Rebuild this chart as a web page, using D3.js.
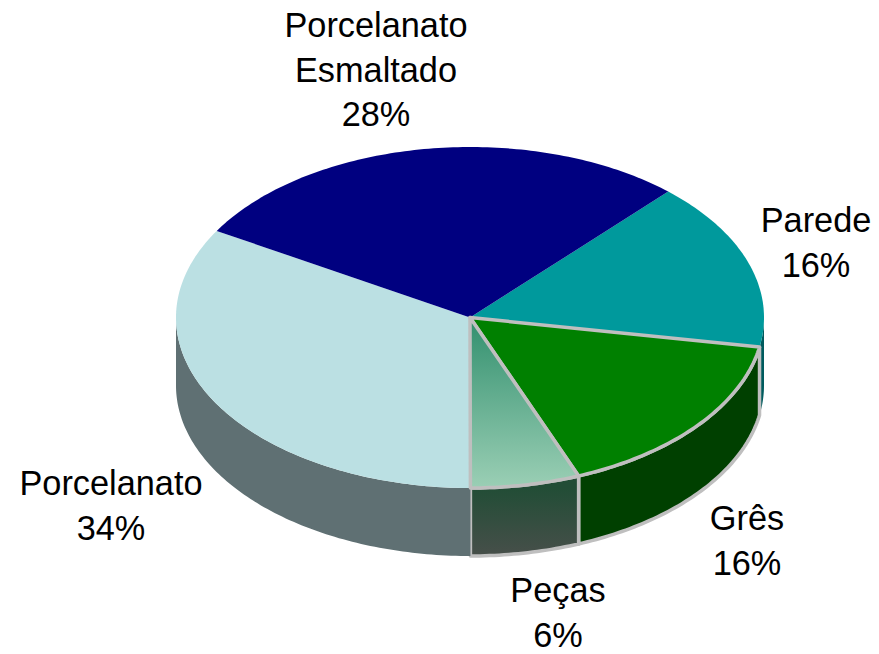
<!DOCTYPE html>
<html><head><meta charset="utf-8">
<script src="https://cdn.jsdelivr.net/npm/d3@7"></script>
<style>html,body{margin:0;padding:0;background:#fff}svg{display:block}text{font-family:"Liberation Sans",Arial,sans-serif;font-size:34.3px;fill:#000}</style>
</head><body><svg id="c" width="879" height="654"></svg>
<script>
const categories=["Parede","Grês","Peças","Porcelanato","Porcelanato Esmaltado"];
const values=[16,16.2,6,33.5,28.3];
const percentLabels=["16%","16%","6%","34%","28%"];
const labelLines=[["Parede"],["Grês"],["Peças"],["Porcelanato"],["Porcelanato","Esmaltado"]];
const topColors=["#00999c","#008000","url(#pecasTop)","#bbe0e3","#000080"];
const wallColors=["#005b5e","#004000","url(#pecasWall)","#5f7073","#000050"];
const outlined=[false,true,true,false,false];
const labelAnchors=[[816,232],[747,530],[558,602],[111,495],[376,37]];

const W=879,H=654,cx=470,cy=317.5,rx=294,ry=170.5,depth=68;
const svg=d3.select("#c");
const defs=svg.append("defs");
function grad(id,stops,y1,y2){
  const g=defs.append("linearGradient").attr("id",id).attr("gradientUnits","userSpaceOnUse")
    .attr("x1",0).attr("x2",0).attr("y1",y1).attr("y2",y2);
  stops.forEach(s=>g.append("stop").attr("offset",s[0]).attr("stop-color",s[1]));
}
grad("pecasTop",[[0,"#369271"],[1,"#9bcfb5"]],325,488);
grad("pecasWall",[[0,"#224d36"],[1,"#474f4a"]],488,556);

// clockwise angle, 0 at 12 o'clock on the unprojected circle
const start=0.74;
const pie=d3.pie().sort(null).value(d=>d).startAngle(start).endAngle(start+Math.PI*2);
const arcs=pie(values);
const sx=d3.scaleLinear().domain([-1,1]).range([cx-rx,cx+rx]);
const sy=d3.scaleLinear().domain([-1,1]).range([cy-ry,cy+ry]);
const px=a=>sx(Math.sin(a)),py=a=>sy(-Math.cos(a));
const line=d3.line();
function samples(a0,a1){const n=Math.max(2,Math.ceil(Math.abs(a1-a0)*60));return d3.range(n+1).map(i=>a0+(a1-a0)*i/n);}
function topPath(d){return line([[cx,cy],...samples(d.startAngle,d.endAngle).map(a=>[px(a),py(a)])])+"Z";}
function wallPath(d){
  // visible part: the front half of the ellipse
  const lo=Math.max(d.startAngle,Math.PI/2),hi=Math.min(d.endAngle,Math.PI*1.5);
  const lo2=Math.min(d.startAngle,Math.PI/2),hi2=Math.min(d.endAngle,Math.PI/2);
  const s=hi>lo?samples(lo,hi):(hi2>lo2?samples(lo2,hi2):null);
  if(!s)return null;
  return line([...s.map(a=>[px(a),py(a)]),...s.slice().reverse().map(a=>[px(a),py(a)+depth])])+"Z";
}
const stroke="#bfbfbf";
// walls
arcs.forEach((d,i)=>{
  const p=wallPath(d); if(!p)return;
  svg.append("path").attr("d",p).attr("fill",wallColors[i])
    .attr("stroke",outlined[i]?stroke:"none").attr("stroke-width",3.5).attr("stroke-linejoin","round");
});
// tops, unoutlined first
arcs.map((d,i)=>i).sort((a,b)=>outlined[a]-outlined[b]).forEach(i=>{
  svg.append("path").attr("d",topPath(arcs[i])).attr("fill",topColors[i])
    .attr("stroke",outlined[i]?stroke:"none").attr("stroke-width",3.5).attr("stroke-linejoin","round");
});
// labels
labelLines.forEach((ls,i)=>{
  const t=svg.append("text").attr("text-anchor","middle");
  [...ls,percentLabels[i]].forEach((s,k)=>{
    t.append("tspan").attr("x",labelAnchors[i][0]).attr("y",labelAnchors[i][1]+k*44.5).text(s);
  });
});
</script></body></html>
